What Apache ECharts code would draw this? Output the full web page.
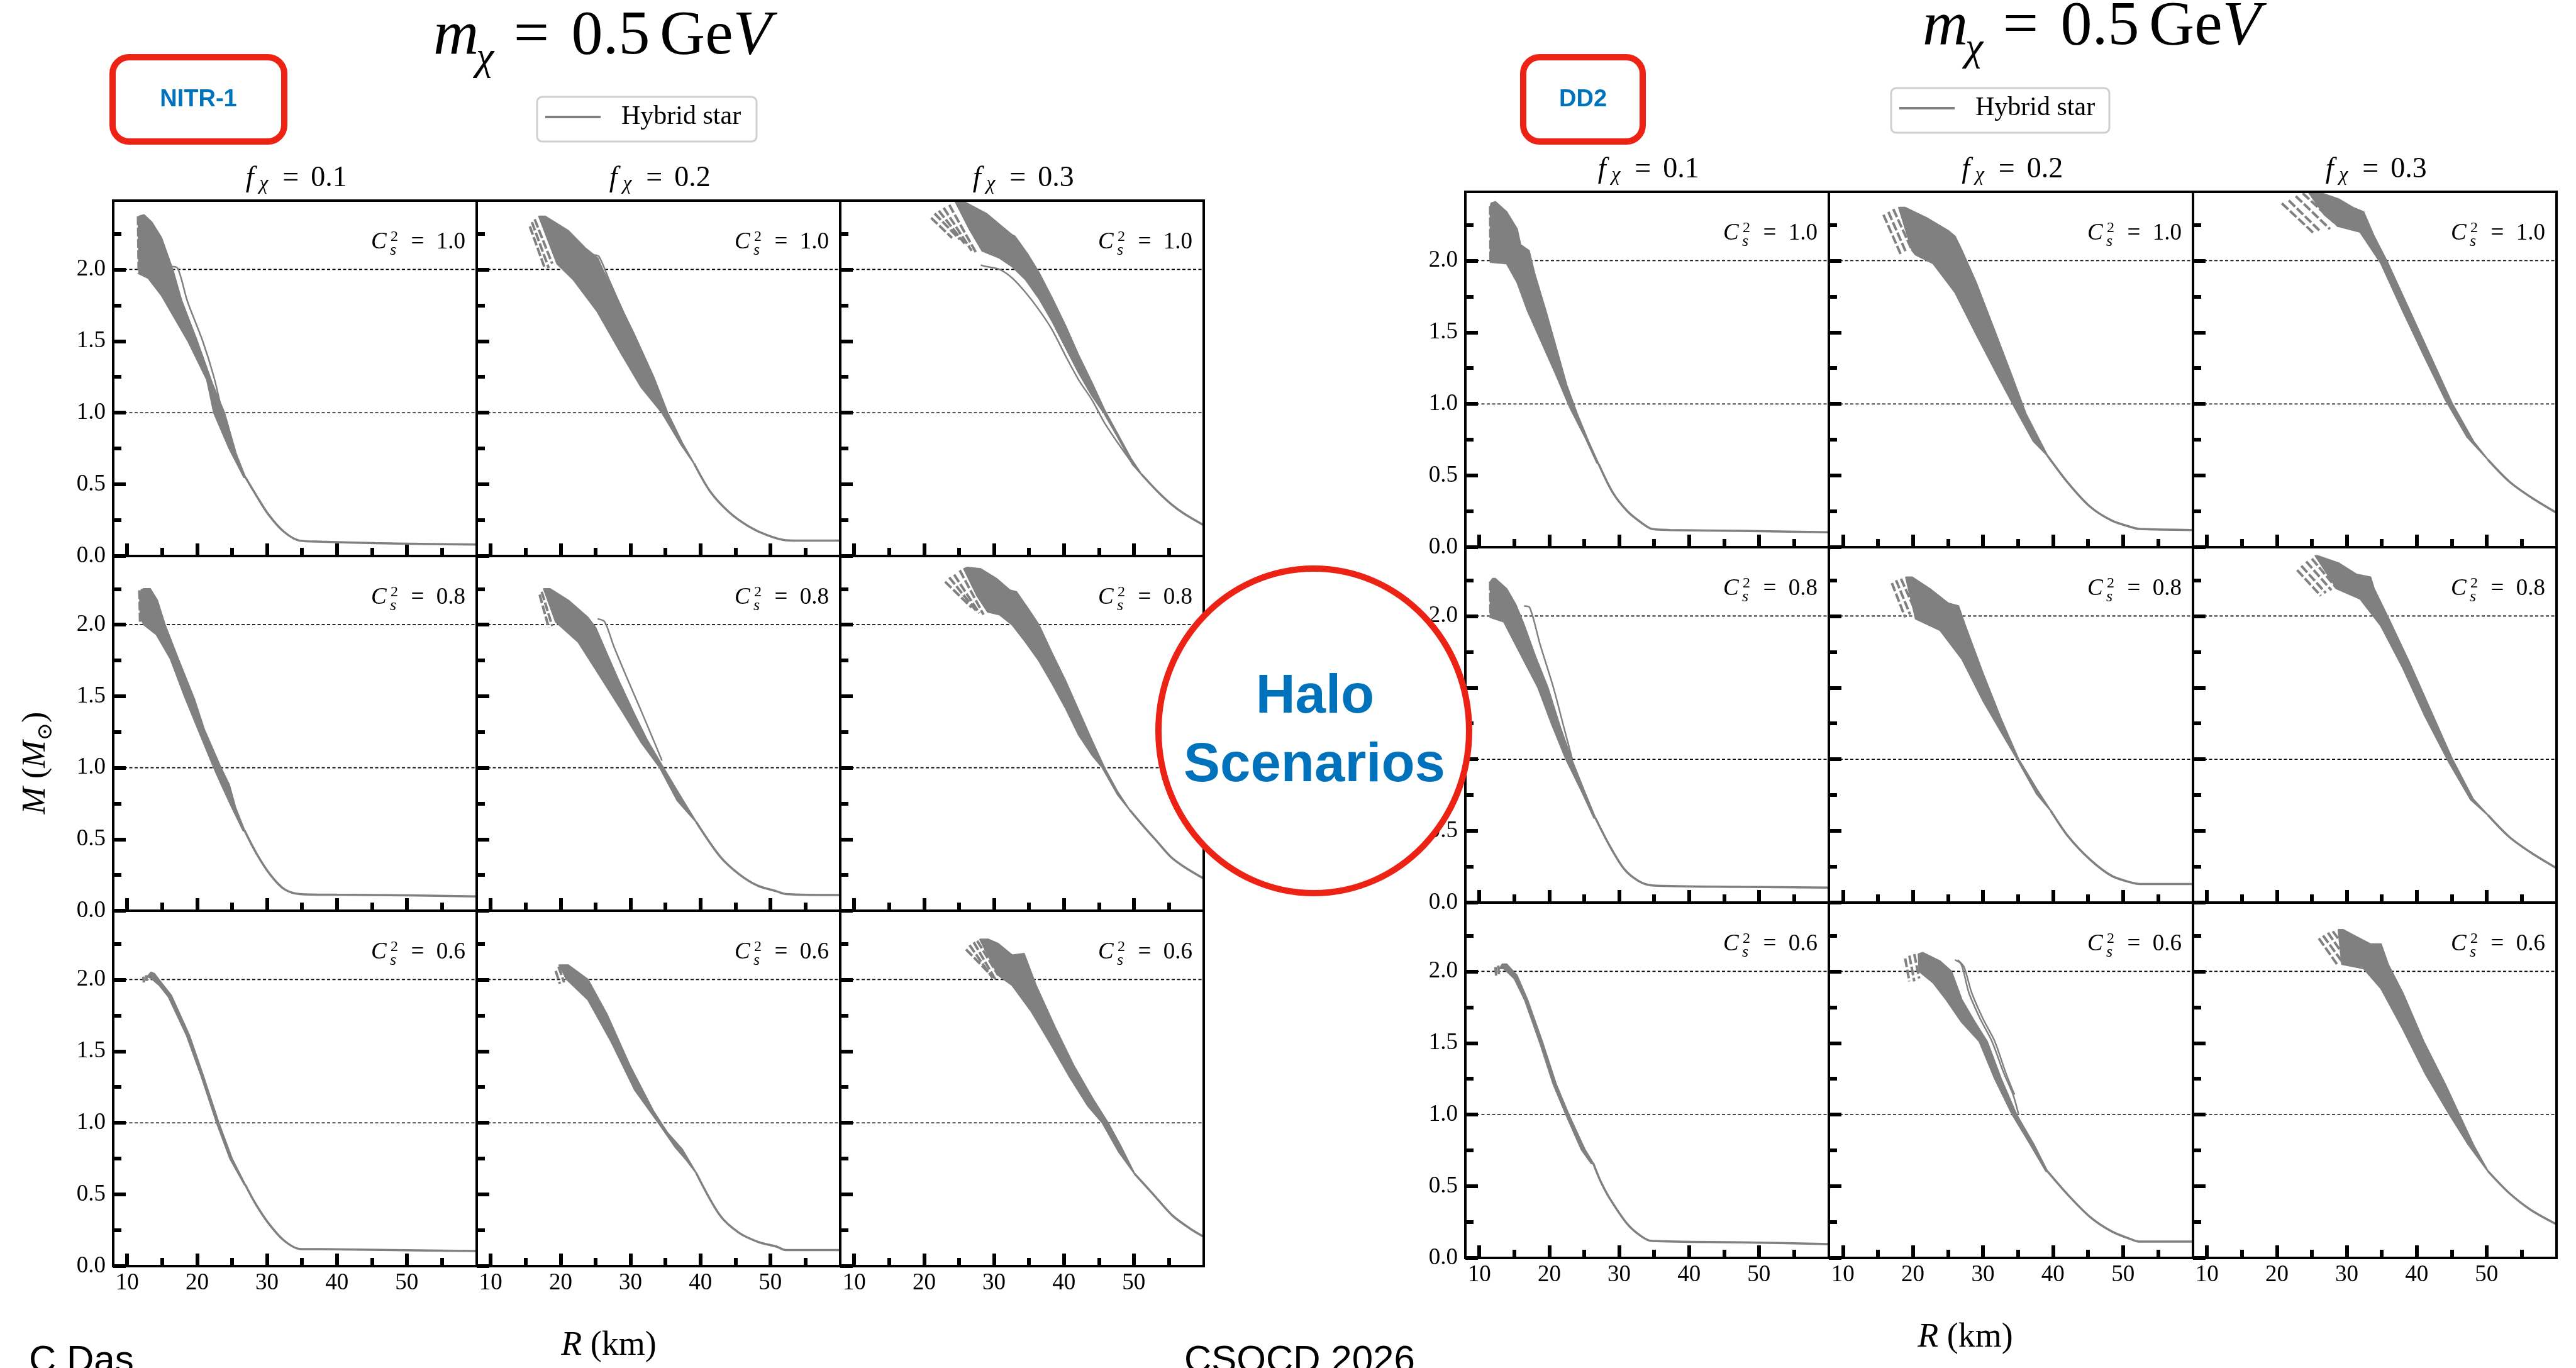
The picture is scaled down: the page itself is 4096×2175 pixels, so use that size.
<!DOCTYPE html>
<html>
<head>
<meta charset="utf-8">
<title>Hybrid star mass-radius curves, halo scenarios</title>
<script src="https://cdn.jsdelivr.net/npm/echarts@6/dist/echarts.min.js"></script>
<style>
  html, body { margin: 0; padding: 0; background: #fff; }
  #chart { width: 4096px; height: 2175px; }
</style>
</head>
<body>
<div id="chart"></div>
<script>
// ---------- axes, ticks and labels ----------
const radiusRange = [8, 60];
const massRange = [0, 2.48];
const radiusMajorTicks = [10, 20, 30, 40, 50];
const radiusMinorTicks = [15, 25, 35, 45, 55];
const massMajorTicks = [0, 0.5, 1.0, 1.5, 2.0];
const massMinorTicks = [0.25, 0.75, 1.25, 1.75, 2.25];
const referenceMasses = [1.0, 2.0];
const darkFractions = ['0.1', '0.2', '0.3'];
const soundSpeedsSq = ['1.0', '0.8', '0.6'];
const eosNames = ['NITR-1', 'DD2'];

// ---------- NITR-1 : each panel = upper edge, lower edge, common tail, loose curves, unstable-branch dashes ----------
// C_s^2 = 1.0
const n10f1Hi = [[11.7,2.37],[12.4,2.38],[13.5,2.33],[14.9,2.22],[16.5,2.0],[17.8,1.78],[20.0,1.5],[22.2,1.2],[23.9,1.0],[25.6,0.71],[26.9,0.55]];
const n10f1Lo = [[11.6,2.36],[11.7,1.97],[13.0,1.94],[14.9,1.82],[16.8,1.66],[18.7,1.5],[21.4,1.23],[22.4,1.0],[24.6,0.75],[26.7,0.55]];
const n10f1Tail = [[26.9,0.55],[28.5,0.42],[30.2,0.29],[32.4,0.17],[34.7,0.107],[37.8,0.10],[45.4,0.09],[52.0,0.085],[60.0,0.08]];
const n10f1Extra = [[[16.3,2.02],[17.2,2.01],[18.6,1.78],[20.8,1.5],[22.4,1.25],[23.6,1.0]]];
const n10f1Comb = [[[11.55,2.37],[11.65,1.97]]];

const n10f2Hi = [[16.9,2.37],[17.8,2.37],[21.1,2.27],[23.5,2.15],[25.3,2.08],[26.2,1.98],[27.9,1.81],[30.6,1.54],[33.3,1.25],[35.3,1.0],[37.4,0.79],[39.1,0.645]];
const n10f2Lo = [[16.9,2.37],[19.5,2.04],[21.8,1.93],[25.2,1.71],[28.6,1.42],[31.5,1.18],[34.5,1.0],[37.2,0.78],[39.1,0.645]];
const n10f2Tail = [[39.1,0.645],[41.4,0.45],[44.1,0.306],[46.8,0.21],[49.5,0.146],[52.2,0.11],[54.9,0.107],[60.0,0.107]];
const n10f2Extra = [[[24.8,2.10],[25.5,2.09],[27.0,1.92],[29.0,1.70]]];
const n10f2Comb = [[[15.6,2.30],[17.8,2.0]],[[15.9,2.33],[18.3,2.01]],[[16.3,2.35],[18.8,2.04]]];

const n10f3Hi = [[24.5,2.47],[25.8,2.47],[28.9,2.39],[31.1,2.30],[32.6,2.24],[33.0,2.23],[34.9,2.10],[36.4,1.98],[38.3,1.80],[40.2,1.61],[42.1,1.40],[44.0,1.21],[45.8,1.02],[47.7,0.85],[49.6,0.68],[51.1,0.57]];
const n10f3Lo = [[24.5,2.47],[26.5,2.28],[28.3,2.13],[30.8,2.08],[32.6,2.02],[34.5,1.93],[36.4,1.80],[38.3,1.64],[40.2,1.46],[42.1,1.28],[44.0,1.12],[45.7,1.0],[47.7,0.83],[49.8,0.64],[51.1,0.57]];
const n10f3Tail = [[51.1,0.57],[53.4,0.45],[55.3,0.364],[57.2,0.295],[60.0,0.215]];
const n10f3Extra = [[[28.1,2.03],[28.9,2.02],[30.8,2.0],[32.6,1.94],[34.5,1.84],[36.4,1.72],[38.3,1.58],[40.2,1.40],[42.1,1.23],[44.0,1.09],[45.8,0.93],[47.7,0.79],[49.6,0.66],[50.9,0.58]]];
const n10f3Comb = [[[21.0,2.36],[24.0,2.22]],[[21.5,2.39],[25.1,2.21]],[[22.1,2.41],[25.8,2.18]],[[22.8,2.43],[26.8,2.13]],[[23.6,2.45],[27.4,2.12]]];

// C_s^2 = 0.8
const n08f1Hi = [[12.3,2.25],[13.3,2.25],[14.3,2.17],[15.4,2.0],[17.3,1.76],[19.6,1.48],[21.0,1.27],[23.4,1.0],[24.6,0.88],[25.5,0.72],[26.8,0.56]];
const n08f1Lo = [[11.8,2.22],[11.9,2.05],[12.4,2.0],[14.2,1.93],[16.2,1.76],[18.2,1.5],[20.3,1.25],[22.4,1.0],[23.5,0.88],[25.0,0.72],[26.6,0.56]];
const n08f1Tail = [[26.8,0.56],[28.5,0.40],[30.5,0.25],[32.5,0.15],[34.7,0.117],[40.0,0.112],[50.0,0.108],[60.0,0.10]];
const n08f1Extra = [];
const n08f1Comb = [[[11.75,2.24],[11.85,2.0]],[[12.1,2.25],[12.2,2.02]]];

const n08f2Hi = [[17.6,2.25],[18.5,2.25],[21.1,2.17],[23.9,2.05],[25.0,1.98],[26.6,1.80],[28.2,1.62],[30.5,1.38],[32.3,1.20],[34.7,1.0],[37.4,0.78],[39.4,0.62]];
const n08f2Lo = [[17.6,2.25],[19.3,2.02],[22.5,1.88],[25.9,1.62],[29.0,1.38],[31.5,1.18],[34.2,1.0],[36.7,0.77],[39.4,0.62]];
const n08f2Tail = [[39.4,0.62],[42.8,0.38],[45.5,0.257],[48.2,0.175],[50.9,0.136],[52.2,0.117],[60.0,0.11]];
const n08f2Extra = [[[25.3,2.04],[26.3,2.02],[27.6,1.85],[29.3,1.65],[31.5,1.40],[33.4,1.18],[34.5,1.05]]];
const n08f2Comb = [[[17.0,2.21],[18.3,1.98]],[[17.3,2.23],[18.8,1.99]]];

const n08f3Hi = [[25.7,2.39],[26.2,2.40],[28.1,2.39],[30.4,2.32],[32.3,2.24],[33.2,2.23],[34.9,2.11],[36.4,2.0],[38.3,1.80],[40.2,1.61],[42.1,1.40],[44.0,1.19],[45.8,1.0],[47.7,0.83],[49.4,0.705]];
const n08f3Lo = [[25.7,2.39],[27.6,2.20],[29.1,2.09],[30.8,2.07],[32.6,2.0],[34.5,1.88],[36.4,1.75],[38.3,1.59],[40.2,1.42],[42.1,1.23],[44.0,1.09],[45.5,1.0],[47.7,0.81],[49.4,0.705]];
const n08f3Tail = [[49.4,0.705],[51.5,0.584],[53.4,0.48],[55.3,0.376],[57.2,0.307],[60.0,0.225]];
const n08f3Extra = [];
const n08f3Comb = [[[23.0,2.30],[26.8,2.12]],[[23.6,2.33],[27.4,2.10]],[[24.3,2.35],[27.9,2.08]],[[25.1,2.38],[28.5,2.07]]];

// C_s^2 = 0.6
const n06f1Hi = [[13.4,2.05],[13.9,2.04],[15.0,1.97],[16.3,1.89],[18.9,1.61],[20.8,1.34],[23.1,1.0],[25.0,0.75],[26.9,0.567]];
const n06f1Lo = [[12.9,2.02],[13.4,2.01],[14.6,1.96],[15.9,1.88],[18.5,1.61],[20.5,1.34],[22.8,1.0],[24.7,0.75],[26.8,0.567]];
const n06f1Tail = [[26.9,0.567],[28.3,0.44],[30.2,0.30],[32.4,0.18],[34.7,0.12],[37.8,0.118],[48.0,0.112],[60.0,0.105]];
const n06f1Extra = [];
const n06f1Comb = [[[12.3,2.02],[12.4,1.98]],[[12.7,2.03],[12.8,1.99]]];

const n06f2Hi = [[19.8,2.10],[21.1,2.10],[23.9,2.0],[26.6,1.76],[29.9,1.40],[33.3,1.08],[35.3,0.93],[37.4,0.815],[39.4,0.65]];
const n06f2Lo = [[19.8,2.10],[20.9,2.0],[23.9,1.86],[27.2,1.57],[30.6,1.23],[34.0,1.0],[36.4,0.83],[38.0,0.74],[39.4,0.65]];
const n06f2Tail = [[39.4,0.65],[42.8,0.354],[45.5,0.233],[48.2,0.17],[50.9,0.136],[52.2,0.112],[60.0,0.112]];
const n06f2Extra = [];
const n06f2Comb = [[[19.3,2.06],[19.9,1.97]],[[19.7,2.09],[20.5,1.98]],[[20.1,2.10],[20.9,2.0]]];

const n06f3Hi = [[28.0,2.28],[29.2,2.28],[30.6,2.25],[32.6,2.17],[34.3,2.18],[36.0,1.96],[38.7,1.67],[41.4,1.40],[44.1,1.17],[46.3,1.0],[48.1,0.84],[50.1,0.645]];
const n06f3Lo = [[28.0,2.28],[30.6,2.03],[32.6,1.96],[35.3,1.78],[38.0,1.56],[40.7,1.33],[43.4,1.12],[45.5,1.0],[47.8,0.80],[50.1,0.645]];
const n06f3Tail = [[50.1,0.645],[52.8,0.50],[55.5,0.354],[58.2,0.257],[60.0,0.205]];
const n06f3Extra = [];
const n06f3Comb = [[[26.0,2.21],[29.2,2.05]],[[26.5,2.24],[29.8,2.01]],[[27.1,2.26],[30.2,2.0]],[[27.6,2.27],[30.6,2.03]]];

// ---------- DD2 ----------
// C_s^2 = 1.0
const d10f1Hi = [[11.7,2.40],[12.3,2.41],[13.9,2.34],[15.4,2.22],[15.9,2.11],[17.1,2.07],[17.9,1.91],[19.5,1.65],[21.0,1.39],[22.5,1.13],[24.0,0.93],[25.6,0.74],[27.1,0.577]];
const d10f1Lo = [[11.6,2.38],[11.6,1.99],[13.9,1.98],[15.4,1.85],[16.9,1.65],[19.0,1.42],[21.0,1.20],[23.0,0.97],[25.1,0.77],[26.8,0.59],[27.1,0.577]];
const d10f1Tail = [[27.1,0.577],[29.1,0.38],[31.2,0.25],[33.2,0.17],[34.7,0.127],[37.3,0.12],[47.4,0.114],[60.0,0.104]];
const d10f1Extra = [];
const d10f1Comb = [[[11.55,2.38],[11.6,2.0]]];

const d10f2Hi = [[18.0,2.37],[18.9,2.37],[21.9,2.30],[25.0,2.21],[26.0,2.17],[27.0,2.07],[29.0,1.85],[31.6,1.52],[34.1,1.20],[36.1,0.935],[39.2,0.64]];
const d10f2Lo = [[18.0,2.37],[19.9,2.07],[20.4,2.04],[22.9,1.98],[26.0,1.78],[29.0,1.49],[32.1,1.20],[34.6,0.97],[37.2,0.74],[39.2,0.64]];
const d10f2Tail = [[39.2,0.64],[42.2,0.446],[45.3,0.283],[48.4,0.186],[51.4,0.137],[52.4,0.127],[60.0,0.12]];
const d10f2Extra = [];
const d10f2Comb = [[[15.8,2.32],[18.3,2.04]],[[16.5,2.34],[19.0,2.06]],[[17.2,2.36],[19.9,2.07]]];

const d10f3Hi = [[24.5,2.48],[25.8,2.48],[28.8,2.43],[30.9,2.37],[32.4,2.34],[33.9,2.17],[35.9,1.98],[39.0,1.65],[42.0,1.33],[45.1,1.0],[48.1,0.74],[50.2,0.61]];
const d10f3Lo = [[24.5,2.48],[26.8,2.32],[28.8,2.24],[31.9,2.20],[34.9,1.98],[38.0,1.65],[41.1,1.33],[44.1,1.03],[47.2,0.77],[50.2,0.61]];
const d10f3Tail = [[50.2,0.61],[53.2,0.46],[56.3,0.35],[60.0,0.24]];
const d10f3Extra = [];
const d10f3Comb = [[[20.7,2.40],[25.3,2.19]],[[21.7,2.42],[26.3,2.20]],[[22.7,2.45],[27.6,2.22]],[[23.7,2.47],[28.8,2.24]]];

// C_s^2 = 0.8
const d08f1Hi = [[11.9,2.26],[12.3,2.26],[13.9,2.19],[15.2,2.08],[16.3,1.95],[18.0,1.72],[19.8,1.5],[21.6,1.22],[23.2,1.0],[25.0,0.78],[26.6,0.59]];
const d08f1Lo = [[11.6,2.24],[11.6,1.99],[13.5,1.96],[15.2,1.80],[16.8,1.65],[18.4,1.5],[20.4,1.24],[22.4,1.0],[24.6,0.78],[26.4,0.59]];
const d08f1Tail = [[26.6,0.59],[28.6,0.40],[30.7,0.235],[32.7,0.153],[34.7,0.12],[47.4,0.11],[60.0,0.104]];
const d08f1Extra = [[[16.4,2.07],[17.2,2.06],[18.7,1.80],[20.6,1.5],[22.0,1.24],[23.3,1.0]]];
const d08f1Comb = [[[11.55,2.24],[11.6,1.99]]];

const d08f2Hi = [[19.0,2.27],[19.9,2.27],[22.4,2.19],[25.0,2.09],[26.5,2.07],[27.5,1.93],[30.0,1.60],[32.6,1.28],[35.1,1.0],[37.7,0.79],[39.7,0.64]];
const d08f2Lo = [[19.0,2.27],[20.4,1.98],[23.9,1.90],[27.0,1.70],[30.0,1.41],[33.1,1.15],[34.9,1.0],[37.7,0.756],[39.7,0.64]];
const d08f2Tail = [[39.7,0.64],[42.2,0.46],[45.3,0.30],[48.4,0.186],[51.4,0.137],[52.4,0.13],[60.0,0.13]];
const d08f2Extra = [];
const d08f2Comb = [[[17.0,2.23],[18.9,1.99]],[[17.6,2.25],[19.6,2.01]],[[18.3,2.26],[20.4,2.03]]];

const d08f3Hi = [[25.5,2.42],[25.8,2.42],[28.8,2.37],[31.4,2.29],[33.4,2.27],[33.9,2.19],[35.9,1.99],[39.0,1.67],[42.0,1.34],[45.1,1.0],[48.1,0.72],[50.2,0.61]];
const d08f3Lo = [[25.5,2.42],[28.6,2.19],[31.9,2.12],[34.9,1.93],[38.0,1.64],[41.1,1.31],[44.6,0.98],[47.7,0.72],[50.2,0.61]];
const d08f3Tail = [[50.2,0.61],[53.2,0.46],[56.3,0.35],[60.0,0.24]];
const d08f3Extra = [];
const d08f3Comb = [[[22.9,2.32],[26.3,2.14]],[[23.5,2.35],[27.0,2.16]],[[24.2,2.38],[27.8,2.18]],[[25.0,2.40],[28.6,2.19]]];

// C_s^2 = 0.6
const d06f1Hi = [[13.3,2.05],[13.9,2.05],[15.4,1.97],[16.9,1.80],[19.0,1.51],[21.0,1.21],[22.8,1.0],[25.1,0.756],[26.3,0.66]];
const d06f1Lo = [[12.9,2.02],[13.5,2.02],[15.0,1.95],[16.5,1.80],[18.6,1.51],[20.6,1.21],[22.4,1.0],[24.6,0.756],[26.0,0.66]];
const d06f1Tail = [[26.3,0.66],[27.3,0.54],[28.6,0.42],[31.2,0.235],[33.2,0.15],[34.7,0.118],[47.4,0.109],[60.0,0.097]];
const d06f1Extra = [];
const d06f1Comb = [[[12.3,2.03],[12.4,1.97]],[[12.7,2.04],[12.8,1.98]]];

const d06f2Hi = [[20.8,2.12],[21.4,2.13],[23.9,2.07],[25.5,2.0],[27.0,1.80],[28.8,1.65],[30.6,1.51],[32.6,1.25],[34.8,1.0],[37.3,0.79],[39.2,0.605]];
const d06f2Lo = [[20.8,2.12],[20.9,2.0],[22.9,1.92],[24.8,1.80],[26.9,1.65],[29.5,1.51],[31.7,1.25],[34.2,1.0],[36.8,0.79],[39.0,0.605]];
const d06f2Tail = [[39.2,0.605],[42.2,0.437],[45.3,0.286],[48.4,0.185],[51.4,0.126],[52.4,0.114],[60.0,0.114]];
const d06f2Extra = [[[26.0,2.08],[26.9,2.05],[28.0,1.85],[29.6,1.67],[31.3,1.51],[32.9,1.30],[34.3,1.14],[35.1,1.0]],
                    [[26.4,2.08],[27.3,2.03],[28.4,1.85],[30.0,1.67],[31.7,1.51],[33.2,1.30],[34.5,1.14]]];
const d06f2Comb = [[[18.9,2.09],[19.5,1.93]],[[19.5,2.11],[20.2,1.93]],[[20.2,2.12],[20.9,1.95]]];

const d06f3Hi = [[28.8,2.29],[29.5,2.29],[31.4,2.24],[33.4,2.19],[34.9,2.19],[35.9,2.05],[38.0,1.85],[41.0,1.51],[44.1,1.21],[46.1,1.0],[48.1,0.79],[50.2,0.605]];
const d06f3Lo = [[28.8,2.29],[29.3,2.05],[32.4,2.02],[34.9,1.88],[38.0,1.60],[41.3,1.28],[44.7,1.0],[47.4,0.79],[50.2,0.605]];
const d06f3Tail = [[50.2,0.605],[53.2,0.454],[56.3,0.336],[60.0,0.235]];
const d06f3Extra = [];
const d06f3Comb = [[[26.0,2.23],[28.6,2.05]],[[26.6,2.25],[29.3,2.07]],[[27.3,2.27],[30.0,2.08]],[[28.0,2.28],[30.7,2.10]]];

// ---------- panel tables (row = C_s^2, column = f_chi) ----------
const panel = (hi, lo, tail, extra, comb) => ({ hi, lo, tail, extra, comb });
const nitrTable = [
  [panel(n10f1Hi, n10f1Lo, n10f1Tail, n10f1Extra, n10f1Comb), panel(n10f2Hi, n10f2Lo, n10f2Tail, n10f2Extra, n10f2Comb), panel(n10f3Hi, n10f3Lo, n10f3Tail, n10f3Extra, n10f3Comb)],
  [panel(n08f1Hi, n08f1Lo, n08f1Tail, n08f1Extra, n08f1Comb), panel(n08f2Hi, n08f2Lo, n08f2Tail, n08f2Extra, n08f2Comb), panel(n08f3Hi, n08f3Lo, n08f3Tail, n08f3Extra, n08f3Comb)],
  [panel(n06f1Hi, n06f1Lo, n06f1Tail, n06f1Extra, n06f1Comb), panel(n06f2Hi, n06f2Lo, n06f2Tail, n06f2Extra, n06f2Comb), panel(n06f3Hi, n06f3Lo, n06f3Tail, n06f3Extra, n06f3Comb)]
];
const dd2Table = [
  [panel(d10f1Hi, d10f1Lo, d10f1Tail, d10f1Extra, d10f1Comb), panel(d10f2Hi, d10f2Lo, d10f2Tail, d10f2Extra, d10f2Comb), panel(d10f3Hi, d10f3Lo, d10f3Tail, d10f3Extra, d10f3Comb)],
  [panel(d08f1Hi, d08f1Lo, d08f1Tail, d08f1Extra, d08f1Comb), panel(d08f2Hi, d08f2Lo, d08f2Tail, d08f2Extra, d08f2Comb), panel(d08f3Hi, d08f3Lo, d08f3Tail, d08f3Extra, d08f3Comb)],
  [panel(d06f1Hi, d06f1Lo, d06f1Tail, d06f1Extra, d06f1Comb), panel(d06f2Hi, d06f2Lo, d06f2Tail, d06f2Extra, d06f2Comb), panel(d06f3Hi, d06f3Lo, d06f3Tail, d06f3Extra, d06f3Comb)]
];

// ---------- styling / layout ----------
const GRAY = '#808080';
const RED = '#ec2314';
const BLUE = '#0072bc';
const SERIF = '"Liberation Serif", "DejaVu Serif", serif';
const SANS = '"Liberation Sans", Arial, sans-serif';
const TICK_FONT = 37;

const layouts = [
  { table: nitrTable, xs: [180, 758, 1336, 1914], ys: [319, 884, 1448, 2013], titleX: 689, titleY: 58.5,
    box: { x: 179, y: 91, w: 273, h: 134 }, legend: { x: 854, y: 154, w: 349, h: 71, ly: 186 },
    yLabel: { x: 57, y: 1213 }, xLabel: { x: 968, y: 2140 } },
  { table: dd2Table, xs: [2330, 2908, 3487, 4065], ys: [305, 870, 1435, 2000], titleX: 3057, titleY: 44,
    box: { x: 2422, y: 91, w: 190, h: 134 }, legend: { x: 3007, y: 140, w: 347, h: 71, ly: 172 },
    yLabel: { x: 2207, y: 1152 }, xLabel: { x: 3125, y: 2127 } }
];

const grids = [], xAxes = [], yAxes = [], series = [], graphics = [];

function curve(ax, data, width, dash) {
  return {
    type: 'line', xAxisIndex: ax.x, yAxisIndex: ax.y, data, symbol: 'none', silent: true,
    smooth: dash ? false : 0.3, clip: true, z: 3,
    lineStyle: { color: GRAY, width, type: dash || 'solid', cap: 'butt' }
  };
}

function addPanel(gi, p) {
  const ax = { x: 2 * gi, y: 2 * gi };
  referenceMasses.forEach(m => series.push({
    type: 'line', xAxisIndex: ax.x, yAxisIndex: ax.y, symbol: 'none', silent: true, z: 1,
    data: [[radiusRange[0], m], [radiusRange[1], m]],
    lineStyle: { color: '#000', width: 1.6, type: [5, 3.5] }
  }));
  const ring = p.hi.concat(p.lo.slice().reverse());
  series.push({
    type: 'custom', xAxisIndex: ax.x, yAxisIndex: ax.y, clip: true, silent: true, z: 2,
    data: ring, encode: { x: 0, y: 1 },
    renderItem: (params, api) => params.dataIndex !== 0 ? null : {
      type: 'polygon',
      shape: { points: ring.map(q => api.coord(q)) },
      style: { fill: GRAY, stroke: GRAY, lineWidth: 2.5, lineJoin: 'round' }
    }
  });
  series.push(curve(ax, p.tail, 3.5));
  p.extra.forEach(l => series.push(curve(ax, l, 2.5)));
  p.comb.forEach(l => series.push(curve(ax, l, 4, [14, 4])));
}

function txt(x, y, text, font, align, extra) {
  return Object.assign({ type: 'text', x, y, z: 50,
    style: { text, font, fill: '#000', align, textAlign: align, verticalAlign: 'middle', textVerticalAlign: 'middle' } }, extra || {});
}

function soundSpeedLabel(xr, yt, val) {
  return [
    txt(xr - 168, yt + 66, 'C', `italic 37px ${SERIF}`, 'left'),
    txt(xr - 137, yt + 58, '2', `24px ${SERIF}`, 'left'),
    txt(xr - 138, yt + 79, 's', `italic 26px ${SERIF}`, 'left'),
    txt(xr - 94, yt + 66, '=', `37px ${SERIF}`, 'center'),
    txt(xr - 18, yt + 66, val, `37px ${SERIF}`, 'right')
  ];
}

layouts.forEach((L, side) => {
  for (let r = 0; r < 3; r++) {
    for (let c = 0; c < 3; c++) {
      const gi = grids.length;
      grids.push({
        left: L.xs[c], top: L.ys[r], width: L.xs[c + 1] - L.xs[c], height: L.ys[r + 1] - L.ys[r],
        show: true, borderColor: '#000', borderWidth: 4, backgroundColor: 'transparent', z: 4
      });
      const labelStyle = { color: '#000', fontFamily: SERIF, fontSize: TICK_FONT };
      xAxes.push({
        type: 'value', gridIndex: gi, min: radiusRange[0], max: radiusRange[1], position: 'bottom',
        axisLine: { show: false }, splitLine: { show: false },
        axisTick: { show: true, inside: true, length: 20, customValues: radiusMajorTicks, lineStyle: { color: '#000', width: 6 } },
        axisLabel: Object.assign({ show: r === 2, customValues: radiusMajorTicks, margin: 9 }, labelStyle)
      });
      xAxes.push({
        type: 'value', gridIndex: gi, min: radiusRange[0], max: radiusRange[1], position: 'bottom',
        axisLine: { show: false }, splitLine: { show: false },
        axisTick: { show: true, inside: true, length: 13, customValues: radiusMinorTicks, lineStyle: { color: '#000', width: 6 } },
        axisLabel: { show: false }
      });
      yAxes.push({
        type: 'value', gridIndex: gi, min: massRange[0], max: massRange[1], position: 'left',
        axisLine: { show: false }, splitLine: { show: false },
        axisTick: { show: true, inside: true, length: 20, customValues: massMajorTicks, lineStyle: { color: '#000', width: 6 } },
        axisLabel: Object.assign({ show: c === 0, customValues: massMajorTicks, margin: 12, formatter: v => Number(v).toFixed(1) }, labelStyle)
      });
      yAxes.push({
        type: 'value', gridIndex: gi, min: massRange[0], max: massRange[1], position: 'left',
        axisLine: { show: false }, splitLine: { show: false },
        axisTick: { show: true, inside: true, length: 13, customValues: massMinorTicks, lineStyle: { color: '#000', width: 6 } },
        axisLabel: { show: false }
      });
      addPanel(gi, L.table[r][c]);
      graphics.push(...soundSpeedLabel(L.xs[c + 1], L.ys[r], soundSpeedsSq[r]));
    }
  }

  // column headers f_chi
  for (let c = 0; c < 3; c++) {
    graphics.push({
      type: 'text', x: (L.xs[c] + L.xs[c + 1]) / 2, y: L.ys[0] - 35, z: 50,
      style: {
        text: `{f|f}{x|χ}{eq|=}{n|${darkFractions[c]}}`, align: 'center', textAlign: 'center',
        verticalAlign: 'middle', textVerticalAlign: 'middle', fill: '#000',
        rich: {
          f: { fontFamily: SERIF, fontStyle: 'italic', fontSize: 46, lineHeight: 50, width: 22, fill: '#000' },
          x: { fontFamily: SERIF, fontStyle: 'italic', fontSize: 32, lineHeight: 32, verticalAlign: 'bottom', width: 22, fill: '#000' },
          eq: { fontFamily: SERIF, fontSize: 46, lineHeight: 50, width: 64, align: 'center', fill: '#000' },
          n: { fontFamily: SERIF, fontSize: 46, lineHeight: 50, fill: '#000' }
        }
      }
    });
  }

  // dark-matter mass heading
  graphics.push({
    type: 'text', x: L.titleX, y: L.titleY, z: 50,
    style: {
      text: '{m|m}{x|χ}{eq|=}{n|0.5}{g|Ge}{v|V}', align: 'left', textAlign: 'left',
      verticalAlign: 'middle', textVerticalAlign: 'middle', fill: '#000',
      rich: {
        m: { fontFamily: SERIF, fontStyle: 'italic', fontSize: 100, lineHeight: 133, width: 68, fill: '#000' },
        x: { fontFamily: SERIF, fontStyle: 'italic', fontSize: 64, lineHeight: 64, verticalAlign: 'bottom', width: 40, fill: '#000' },
        eq: { fontFamily: SERIF, fontSize: 100, lineHeight: 133, width: 96, align: 'center', fill: '#000' },
        n: { fontFamily: SERIF, fontSize: 100, lineHeight: 133, width: 156, fill: '#000' },
        g: { fontFamily: SERIF, fontSize: 100, lineHeight: 133, fill: '#000' },
        v: { fontFamily: SERIF, fontStyle: 'italic', fontSize: 100, lineHeight: 133, fill: '#000' }
      }
    }
  });

  // EOS tag in a red rounded frame
  graphics.push({
    type: 'rect', z: 50, shape: { x: L.box.x, y: L.box.y, width: L.box.w, height: L.box.h, r: 26 },
    style: { fill: '#fff', stroke: RED, lineWidth: 10 }
  });
  graphics.push(Object.assign(txt(L.box.x + L.box.w / 2, 159, eosNames[side], `bold 38px ${SANS}`, 'center'), { z: 51 }));
  graphics[graphics.length - 1].style.fill = BLUE;

  // legend
  graphics.push({
    type: 'rect', z: 50, shape: { x: L.legend.x, y: L.legend.y, width: L.legend.w, height: L.legend.h, r: 8 },
    style: { fill: '#fff', stroke: '#cfcfcf', lineWidth: 3 }
  });
  graphics.push({
    type: 'line', z: 51, shape: { x1: L.legend.x + 13, y1: L.legend.ly, x2: L.legend.x + 101, y2: L.legend.ly },
    style: { stroke: GRAY, lineWidth: 4 }
  });
  graphics.push(Object.assign(txt(L.legend.x + 134, L.legend.ly, 'Hybrid star', `42px ${SERIF}`, 'left'), { z: 51 }));

  // axis titles
  graphics.push({
    type: 'text', x: L.yLabel.x, y: L.yLabel.y, rotation: Math.PI / 2, z: 50,
    style: {
      text: '{i|M}{r| (}{i|M}{s|⊙}{r|)}', align: 'center', textAlign: 'center',
      verticalAlign: 'middle', textVerticalAlign: 'middle', fill: '#000',
      rich: {
        i: { fontFamily: SERIF, fontStyle: 'italic', fontSize: 52, lineHeight: 66, fill: '#000' },
        r: { fontFamily: SERIF, fontSize: 52, lineHeight: 66, fill: '#000' },
        s: { fontFamily: SERIF, fontSize: 34, lineHeight: 34, verticalAlign: 'bottom', fill: '#000' }
      }
    }
  });
  graphics.push({
    type: 'text', x: L.xLabel.x, y: L.xLabel.y, z: 50,
    style: {
      text: '{i|R}{r| (km)}', align: 'center', textAlign: 'center',
      verticalAlign: 'middle', textVerticalAlign: 'middle', fill: '#000',
      rich: {
        i: { fontFamily: SERIF, fontStyle: 'italic', fontSize: 54, lineHeight: 66, fill: '#000' },
        r: { fontFamily: SERIF, fontSize: 54, lineHeight: 66, fill: '#000' }
      }
    }
  });
});

// halo scenarios badge, drawn over the panels
graphics.push({
  type: 'ellipse', z: 100, shape: { cx: 2089, cy: 1162, rx: 247, ry: 258 },
  style: { fill: '#fff', stroke: RED, lineWidth: 10 }
});
graphics.push(Object.assign(txt(2091, 1109, 'Halo', `bold 87px ${SANS}`, 'center'), { z: 101 }));
graphics.push(Object.assign(txt(2090, 1218, 'Scenarios', `bold 87px ${SANS}`, 'center'), { z: 101 }));
graphics[graphics.length - 1].style.fill = BLUE;
graphics[graphics.length - 2].style.fill = BLUE;

// slide footer
graphics.push(txt(46, 2164, 'C Das', `60px ${SANS}`, 'left'));
graphics.push(txt(1883, 2164, 'CSQCD 2026', `60px ${SANS}`, 'left'));

const chart = echarts.init(document.getElementById('chart'), null, { renderer: 'canvas' });
chart.setOption({
  animation: false,
  backgroundColor: '#fff',
  grid: grids,
  xAxis: xAxes,
  yAxis: yAxes,
  series,
  graphic: { elements: graphics }
});
</script>
</body>
</html>
